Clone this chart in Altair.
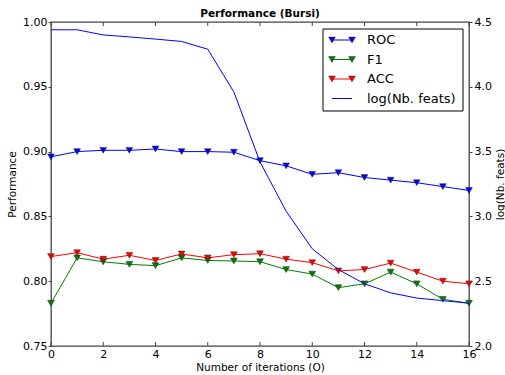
import altair as alt
import pandas as pd

# ---------------- data ----------------
iterations = list(range(17))
roc = [0.896, 0.900, 0.901, 0.901, 0.902, 0.900, 0.900, 0.8995, 0.893, 0.889,
       0.8825, 0.8837, 0.880, 0.878, 0.876, 0.873, 0.870]
f1 = [0.783, 0.818, 0.815, 0.813, 0.812, 0.818, 0.816, 0.8156, 0.815, 0.809,
      0.8055, 0.795, 0.798, 0.807, 0.798, 0.786, 0.783]
acc = [0.819, 0.822, 0.817, 0.820, 0.816, 0.821, 0.818, 0.8205, 0.8212, 0.817,
       0.8143, 0.808, 0.809, 0.814, 0.807, 0.800, 0.798]
log_feats = [4.44, 4.44, 4.40, 4.385, 4.368, 4.35, 4.29, 3.96, 3.42, 3.04,
             2.75, 2.59, 2.48, 2.41, 2.37, 2.35, 2.33]

series_names = ["ROC", "F1", "ACC"]
series_colors = ["#0000ff", "#008000", "#ff0000"]
feats_name = "log(Nb. feats)"
feats_color = "#0000ff"
legend_labels = series_names + [feats_name]
legend_colors = series_colors + [feats_color]

x_ticks = list(range(0, 17, 2))
left_ticks = [0.75, 0.80, 0.85, 0.90, 0.95, 1.00]
right_ticks = [2.0, 2.5, 3.0, 3.5, 4.0, 4.5]

perf = pd.DataFrame({
    "iter": iterations * 3,
    "series": [n for n in series_names for _ in iterations],
    "value": roc + f1 + acc,
})
feats = pd.DataFrame({"iter": iterations, "logf": log_feats})
ticks_df = pd.DataFrame({"iter": x_ticks})
legend_df = pd.DataFrame({"label": legend_labels, "col": legend_colors})
legend_marker_df = legend_df[legend_df["label"].isin(series_names)]
box_df = pd.DataFrame({"k": [0]})

FONT = "DejaVu Sans"
W, H = 418, 324
AX = "#444444"

xscale = alt.Scale(domain=[0, 16], nice=False, zero=False)
color_scale = alt.Scale(domain=series_names, range=series_colors)
x_axis = alt.Axis(values=x_ticks, format="d", ticks=False, tickSize=0,
                  labelPadding=2, labelFlush=False,
                  title="Number of iterations (O)", titlePadding=3)
x_main = alt.X("iter:Q", scale=xscale, axis=x_axis)

y_left = alt.Y(
    "value:Q", scale=alt.Scale(domain=[0.75, 1.0], nice=False, zero=False),
    axis=alt.Axis(values=left_ticks, format=".2f", tickSize=3, labelPadding=1,
                  title="Performance", titlePadding=5),
)

lines = alt.Chart(perf).mark_line(strokeWidth=1).encode(
    x=x_main, y=y_left,
    color=alt.Color("series:N", scale=color_scale, legend=None),
)
points = alt.Chart(perf).mark_point(
    shape="triangle-down", filled=True, size=45, stroke="#222222",
    strokeWidth=0.5, opacity=1,
).encode(
    x=x_main, y=y_left,
    color=alt.Color("series:N", scale=color_scale, legend=None),
)

bottom_ticks = alt.Chart(ticks_df).mark_rule(color=AX, strokeWidth=1).encode(
    x=x_main, y=alt.value(H), y2=alt.value(H - 4),
)
top_ticks = alt.Chart(ticks_df).mark_rule(color=AX, strokeWidth=1).encode(
    x=x_main, y=alt.value(0), y2=alt.value(4),
)

left_layer = alt.layer(lines, points, bottom_ticks, top_ticks)

feats_line = alt.Chart(feats).mark_line(color=feats_color, strokeWidth=1).encode(
    x=x_main,
    y=alt.Y("logf:Q", scale=alt.Scale(domain=[2.0, 4.5], nice=False, zero=False),
            axis=alt.Axis(orient="right", values=right_ticks, format=".1f",
                          tickSize=3, labelPadding=2, title=feats_name,
                          titleAngle=270, titleBaseline="top", titlePadding=4)),
)

# ---------------- legend ----------------
ly = alt.Y("label:N",
           scale=alt.Scale(type="point", domain=legend_labels, range=[18, 76.5], padding=0),
           axis=None)

box = alt.Chart(box_df).mark_rect(fill="white", stroke="black", strokeWidth=1).encode(
    x=alt.value(272), x2=alt.value(412), y=alt.value(7), y2=alt.value(89),
)
leg_lines = alt.Chart(legend_df).mark_rule(strokeWidth=1).encode(
    x=alt.value(281), x2=alt.value(301), y=ly,
    color=alt.Color("col:N", scale=None),
)
leg_m1 = alt.Chart(legend_marker_df).mark_point(
    shape="triangle-down", filled=True, size=45, stroke="#222222",
    strokeWidth=0.5, opacity=1,
).encode(x=alt.value(281), y=ly, color=alt.Color("col:N", scale=None))
leg_m2 = alt.Chart(legend_marker_df).mark_point(
    shape="triangle-down", filled=True, size=45, stroke="#222222",
    strokeWidth=0.5, opacity=1,
).encode(x=alt.value(301), y=ly, color=alt.Color("col:N", scale=None))
leg_text = alt.Chart(legend_df).mark_text(
    align="left", baseline="middle", fontSize=13, font=FONT, color="black",
).encode(x=alt.value(316), y=ly, text="label:N")

legend_layer = alt.layer(box, leg_lines, leg_m1, leg_m2, leg_text)

chart = alt.layer(left_layer, feats_line, legend_layer).resolve_scale(
    y="independent", color="independent"
).properties(
    width=W, height=H,
    title=alt.TitleParams("Performance (Bursi)", anchor="middle", frame="group", dy=9),
    autosize=alt.AutoSizeParams(type="none"),
    padding={"left": 51, "top": 22, "right": 36, "bottom": 29},
).configure_view(
    stroke=AX, strokeWidth=1.3,
).configure_axis(
    labelFont=FONT, titleFont=FONT, labelFontSize=11, titleFontSize=10.5,
    titleFontWeight="normal", labelColor="black", titleColor="black",
    grid=False, domain=False, tickColor=AX, labelOverlap=False,
).configure_title(
    font=FONT, fontSize=10.5, fontWeight="bold", color="black", offset=6,
)

chart.save("out.html", embed_options={"renderer": "svg", "actions": False})
